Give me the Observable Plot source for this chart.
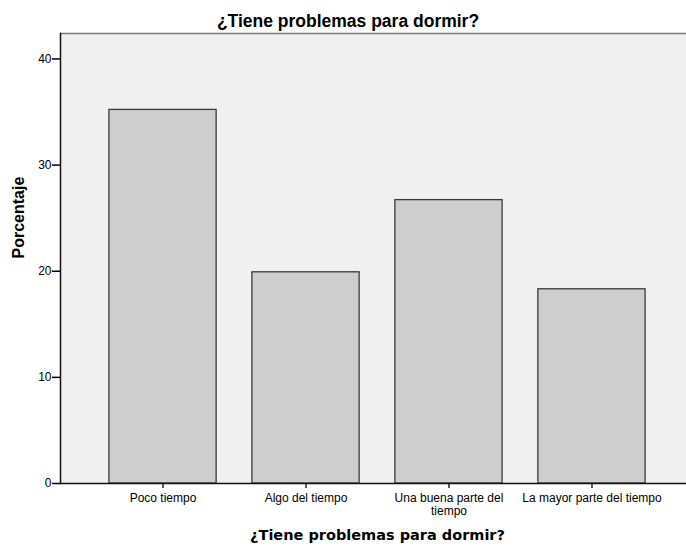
<!DOCTYPE html>
<html>
<head>
<meta charset="utf-8">
<script src="https://cdn.jsdelivr.net/npm/d3@7"></script>
<script src="https://cdn.jsdelivr.net/npm/@observablehq/plot@0.6"></script>
<style>
  body { margin: 0; background: #fff; }
  #wrap { position: relative; width: 686px; height: 547px; overflow: hidden; }
  #title { position: absolute; left: 0; width: 696px; top: 11px; text-align: center;
           font: bold 17.5px "Liberation Sans", Arial, sans-serif; line-height: 20px; color: #000; }
  #xlabel { position: absolute; left: 0; width: 755px; top: 527px; text-align: center;
            font: bold 14.5px "DejaVu Sans", sans-serif; line-height: 17px; color: #000; }
  #chart { position: absolute; left: 0; top: 0; }
</style>
</head>
<body>
<div id="wrap">
  <div id="chart"></div>
  <div id="title">¿Tiene problemas para dormir?</div>
  <div id="xlabel">¿Tiene problemas para dormir?</div>
</div>
<script>
const categories = ["Poco tiempo", "Algo del tiempo", "Una buena parte del tiempo", "La mayor parte del tiempo"];
const tickLabels = ["Poco tiempo", "Algo del tiempo", "Una buena parte del\ntiempo", "La mayor parte del tiempo"];
const percentages = [35.2, 19.9, 26.7, 18.3];
const yTicks = [0, 10, 20, 30, 40];
const yMax = 42.4;
const yLabel = "Porcentaje";

const data = categories.map((c, i) => ({cat: c, pct: percentages[i]}));

const chart = Plot.plot({
  width: 686,
  height: 547,
  marginLeft: 60,
  marginRight: 0,
  marginTop: 33,
  marginBottom: 64,
  style: {fontFamily: "'Liberation Sans', Arial, sans-serif", fontSize: "12px", background: "transparent", color: "#000"},
  x: {type: "band", domain: categories, range: [60, 694], paddingInner: 0.25, paddingOuter: 0.342, round: false},
  y: {domain: [0, yMax]},
  marks: [
    Plot.frame({fill: "#f0f0f0", stroke: null}),
    Plot.barY(data, {x: "cat", y: "pct", fill: "#cecece", stroke: "#3a3a3a", strokeWidth: 1.3}),
    Plot.ruleY([yMax], {stroke: "#777", strokeWidth: 1.5}),
    Plot.ruleY([0], {stroke: "#111", strokeWidth: 1.5}),
    Plot.frame({anchor: "left", stroke: "#111", strokeWidth: 1.5}),
    Plot.axisY({ticks: yTicks, tickSize: 8, tickPadding: 1, fontSize: 12, strokeWidth: 1.5, label: null}),
    Plot.axisX({tickSize: 5, tickPadding: 4, fontSize: 12, strokeWidth: 1.3, label: null, lineHeight: 1.1,
                tickFormat: d => tickLabels[categories.indexOf(d)]}),
    Plot.text([yLabel], {frameAnchor: "left", rotate: -90, dx: -42, fontWeight: "bold", fontSize: 16})
  ]
});
document.getElementById("chart").appendChild(chart);
</script>
</body>
</html>
